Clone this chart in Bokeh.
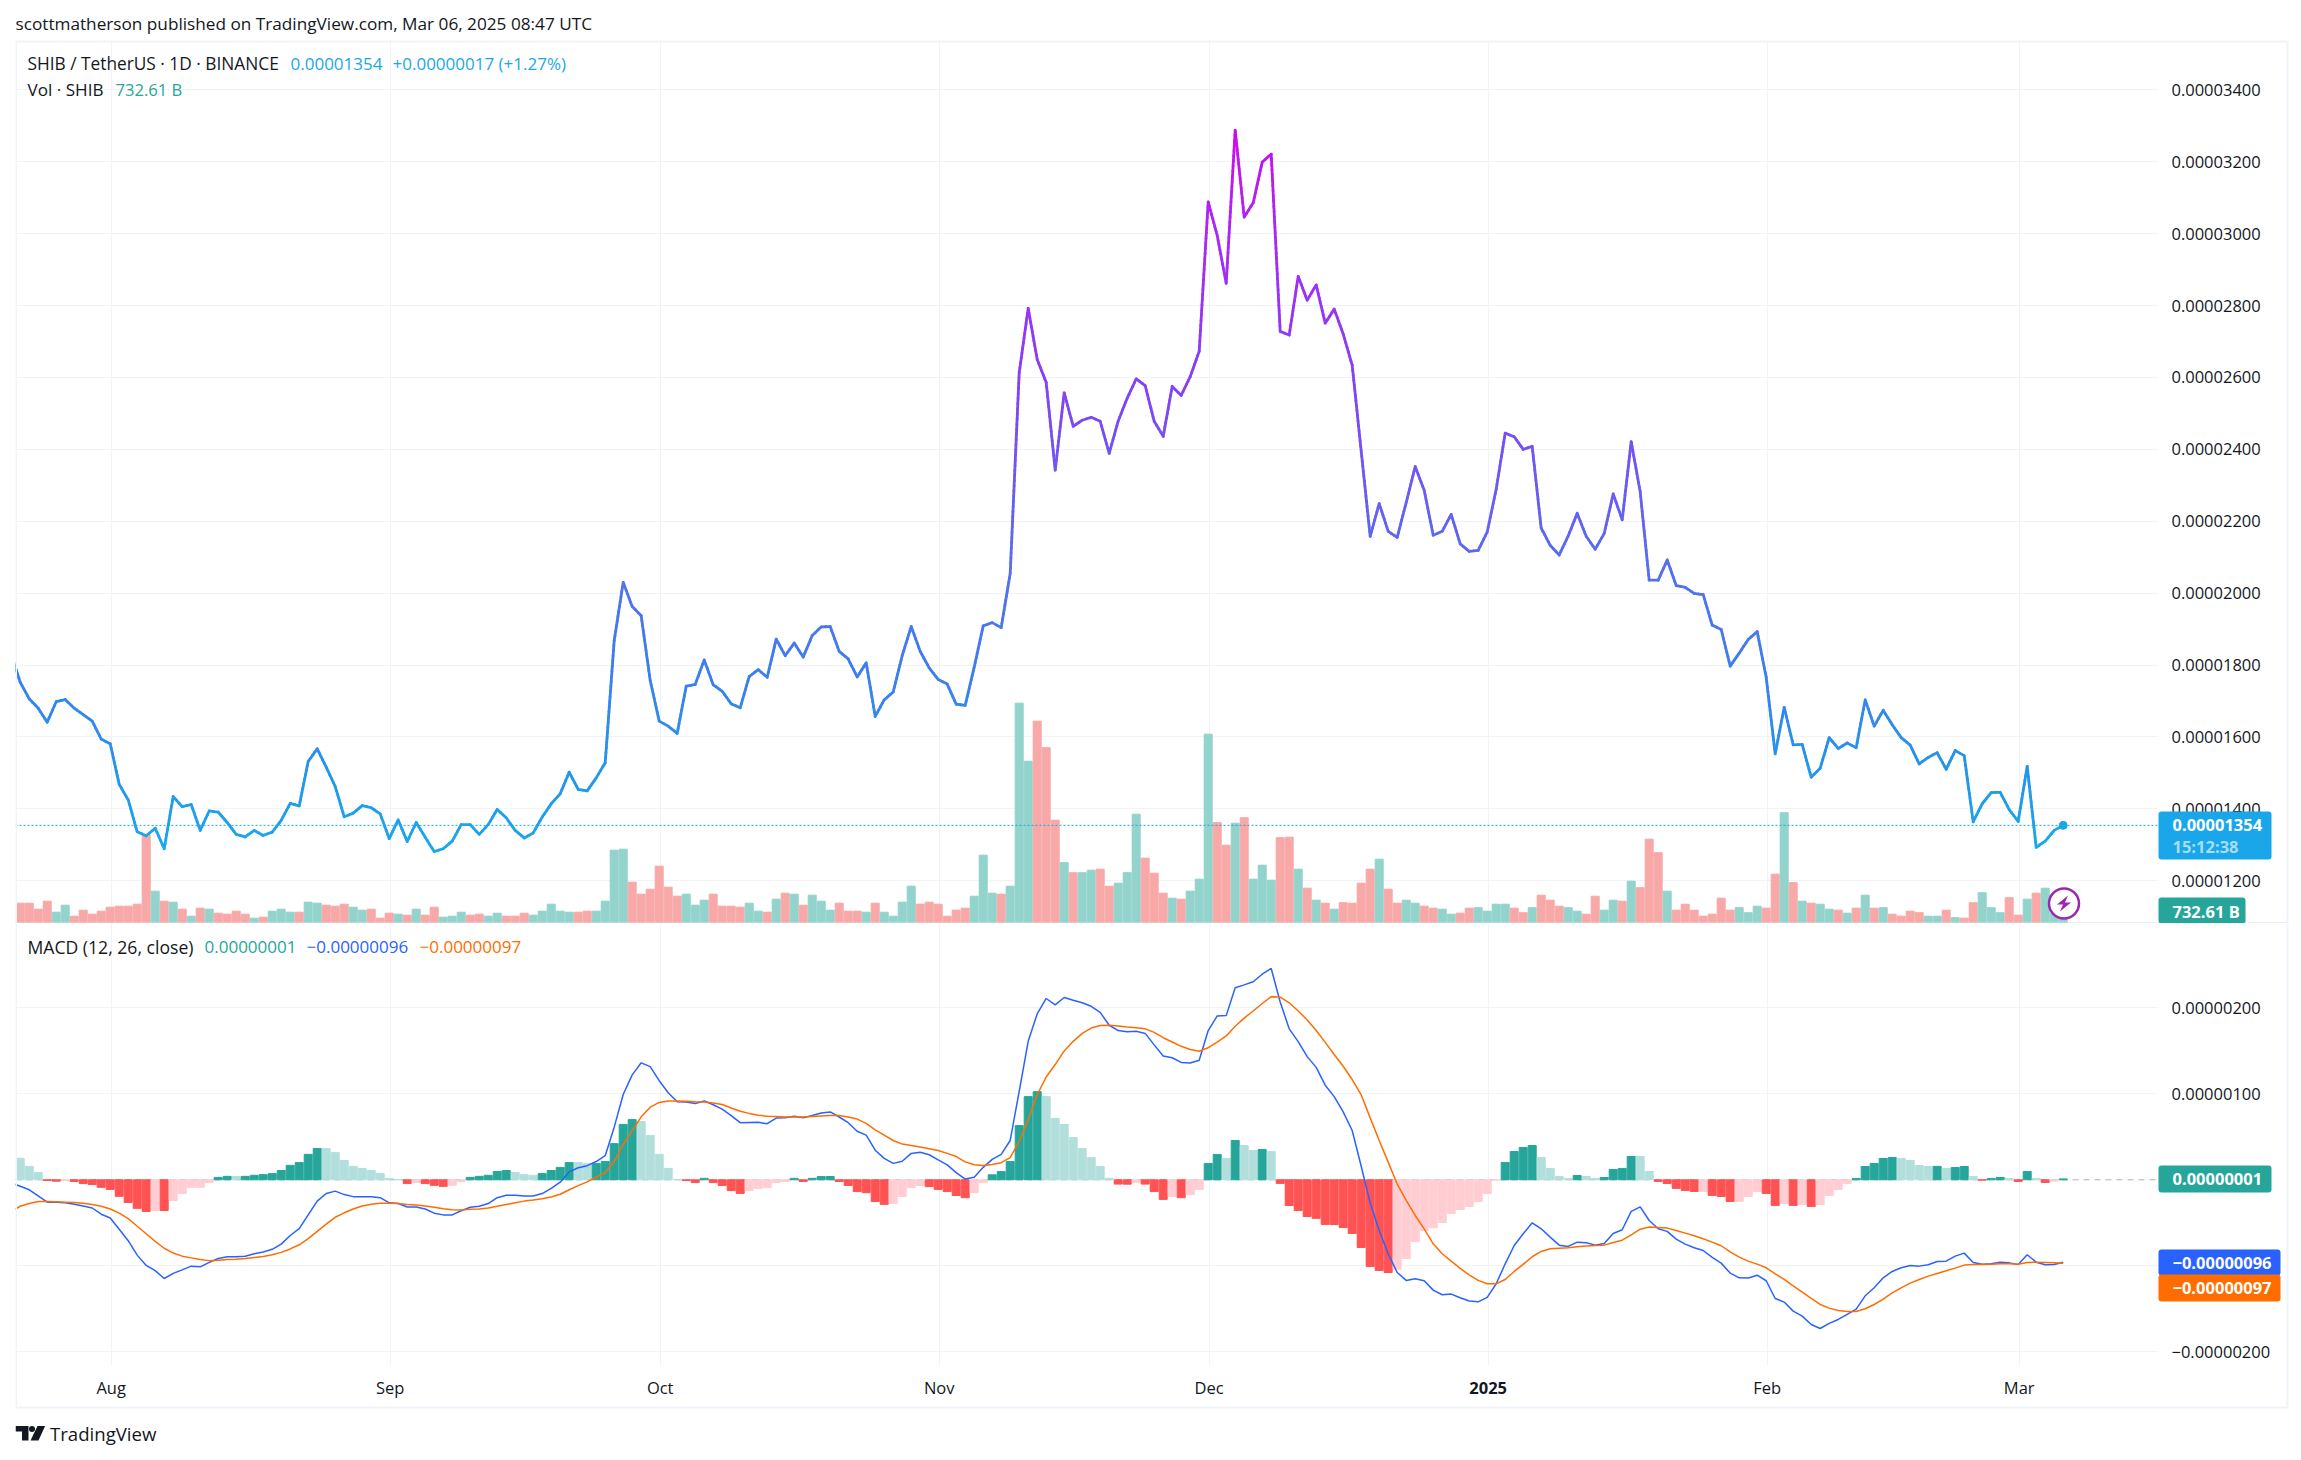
from math import ceil
from bokeh.plotting import figure
from bokeh.layouts import column
from bokeh.models import (Range1d, FixedTicker, Label, BoxAnnotation, PolyAnnotation)
from bokeh.embed import file_html
from bokeh.resources import INLINE

# All prices and MACD values in units of 0.00000001; volume in units of 100 B
first_day = -11  # days after 1 Aug 2024
close = [
1830,1752,1706,1680,1641,1698,1704,1680,1662,1644,
1594,1581,1468,1425,1336,1325,1346,1289,1434,1406,
1412,1340,1394,1391,1362,1329,1322,1340,1326,1335,
1368,1415,1408,1532,1567,1516,1462,1378,1388,1409,
1403,1386,1317,1369,1309,1362,1321,1281,1289,1310,
1356,1356,1329,1356,1398,1375,1340,1319,1333,1377,
1414,1442,1502,1454,1450,1486,1528,1868,2030,1963,
1937,1757,1644,1630,1610,1741,1746,1814,1745,1727,
1692,1681,1768,1787,1766,1872,1826,1861,1822,1882,
1906,1907,1838,1817,1767,1806,1657,1703,1725,1826,
1907,1838,1792,1760,1747,1691,1688,1794,1909,1918,
1904,2055,2613,2792,2650,2586,2342,2557,2464,2481,
2489,2478,2389,2479,2542,2596,2577,2478,2436,2575,
2550,2602,2673,3088,2995,2862,3287,3046,3086,3199,
3221,2728,2718,2881,2815,2857,2751,2790,2721,2634,
2395,2158,2249,2172,2155,2252,2352,2286,2161,2172,
2219,2137,2116,2119,2170,2289,2445,2435,2400,2408,
2181,2133,2106,2159,2222,2158,2122,2166,2276,2204,
2421,2282,2036,2036,2092,2021,2016,1999,1996,1911,
1899,1797,1833,1871,1893,1766,1553,1682,1578,1579,
1488,1513,1598,1568,1583,1570,1703,1630,1674,1634,
1598,1577,1525,1543,1556,1510,1562,1548,1364,1414,
1445,1446,1398,1365,1518,1293,1310,1340,1354]

volume = [
40,40,28,44,22,36,14,26,18,24,
32,34,34,38,176,64,44,42,28,14,
30,28,20,18,24,18,10,12,24,28,
22,22,42,40,36,34,38,32,26,28,
10,20,18,16,28,16,32,12,14,22,
16,18,14,20,14,14,20,16,24,38,
24,22,22,24,24,44,146,148,82,58,
68,114,72,54,58,36,46,58,34,34,
32,40,24,22,48,60,58,36,56,44,
26,40,24,24,22,40,22,14,42,74,
38,42,38,14,26,30,54,136,60,58,
74,440,324,404,351,206,121,101,101,106,
108,74,80,101,218,130,100,60,50,48,
64,88,378,201,156,200,211,88,116,86,
171,172,108,70,46,40,28,41,40,80,
108,128,68,40,46,40,34,30,28,18,
20,30,31,24,38,38,30,21,31,56,
46,34,31,24,18,54,26,46,44,84,
71,168,141,64,26,38,26,14,18,50,
26,31,21,34,30,98,221,81,44,40,
38,28,26,20,30,56,30,31,18,14,
24,21,14,14,26,11,10,41,61,31,
21,51,16,48,60,70,20,7.33]

macd_hist = [
25,15.6,8.4,-0.8,-1.6,-0.8,-2,-4.4,-5.6,-8.8,
-11.2,-19.2,-26.4,-33.2,-36.8,-35.6,-35.7,-24,-16,-8.8,
-8.7,-3.2,2.8,4,3.9,4,5.2,6,7.2,10.8,
16.8,20,29.6,36.4,36.2,31.6,22.4,15.6,13.2,10.8,
7.2,1.6,0.4,-4.4,-3.2,-4.4,-6.4,-7.6,-6.4,-2,
2.8,4,5.2,9.6,10.8,8.4,6,5.2,7.2,10.8,
14.4,20,19.9,18.6,18.8,21.2,42,64.4,70,67.6,
51.6,29.6,13.2,0.3,-0.8,-3.2,1.7,-3.3,-6.6,-12.5,
-15.8,-12.5,-10,-9.1,-3.3,-2,1.7,-2,1.7,3.7,
3.8,-2,-6.6,-13.7,-15,-25.3,-28.6,-27.4,-19.5,-9.1,
-6.6,-7.9,-11.2,-13.7,-18.3,-20.8,-15,-3.3,5.8,9.5,
21.2,63,96.7,102.5,96.7,71.4,64.3,49,36.5,25.7,
15.4,1.7,-5,-5.1,-2.9,-5,-13.7,-22.8,-19.5,-20.8,
-17,-11.2,19,29.5,24.9,45.7,39.8,34,35.3,32.8,
-4.2,-29.9,-35.7,-42.7,-44.8,-51.9,-52,-55.5,-62.4,-78.7,
-100.8,-105.4,-107.8,-103.9,-91.5,-71.7,-58.9,-55.8,-49.6,-39.1,
-34.5,-31,-25.2,-15.9,-0.3,20.2,32.9,37.6,39.9,26,
13.2,3.9,1.6,5,3.9,1.6,2.7,12,13.2,27.1,
27,9.7,-1.9,-4.3,-10,-12.4,-13.6,-13.5,-18.2,-19.4,
-25.2,-25.1,-19.4,-13.6,-15.9,-29.8,-27.5,-29.8,-28.7,-31,
-28.7,-18.2,-11.2,-4.3,1.6,15.5,19,24.8,26,24.8,
22.5,16.7,15.5,15.6,13.2,14.3,15.5,3.9,-0.4,1.6,
2.7,1.6,-1.9,9.7,1.6,-3.1,-1.5,1]

macd_line = [
-3.6,-7.6,-11.6,-18.8,-26,-26,-26.8,-28.4,-30.4,-32.8,
-40,-44.4,-57.6,-70.8,-87.6,-99.6,-105.6,-114.8,-108.8,-104.8,
-100.4,-101.2,-96,-91.6,-89.6,-89.6,-88.8,-86,-84,-80.8,
-74.8,-64.8,-56.8,-40.8,-24.8,-16,-13.2,-17.2,-19.6,-19.6,
-19.6,-20.8,-26.8,-27.6,-31.6,-31.6,-34,-38.8,-40.8,-40.8,
-36,-32,-30.8,-27.6,-20.8,-18,-18,-18.8,-18.8,-16,
-10,-2.8,9.2,14,16.4,21.2,28,61.2,99.2,122,
136,131.6,115.2,101.2,90.8,90.4,88.8,
91.7,87.2,82.2,74.7,66.4,66.6,66.8,65.2,71.8,72.2,
73.9,72.2,74.7,77.6,78.9,73,66.4,56.4,51.9,34.4,
24.9,19.1,21.6,30.7,32,29.1,23.2,17.4,8.3,0.8,
2.9,14.5,23.7,29.5,45.7,102.9,161,193,210.8,203.4,
212,208.7,205.8,201.7,194.6,179.7,173.5,172.2,172.6,170.2,
156.9,144,141.9,136.5,135.7,139,173.5,190.5,190.9,223.3,
226.6,230.3,239,245.7,206.7,175.5,160.6,143.2,130.7,110,
96.7,78.9,57.3,15.8,-27,-59,-86,-107.8,-117,-115,
-117.4,-128.3,-133.7,-132.9,-137.2,-141,-141.9,-136.8,-120.9,-97.7,
-76.4,-62.8,-50,-57,-66.7,-76,-77.5,-72.5,-73.3,-76,
-74,-62.4,-58.1,-36.8,-31.4,-47.3,-57,-60,-69,-74.8,
-79,-82.2,-90.3,-96.9,-108.5,-114,-114.3,-110.9,-117.4,-138,
-142.2,-152.7,-158.5,-168.2,-172.9,-167,-162.4,-156.6,-150.4,-134.9,
-125.6,-114,-106.6,-102.3,-99.6,-100.4,-98.8,-95,-94.6,-88.8,
-85.3,-96.1,-98.1,-97.7,-95.8,-96.6,-98.6,-87.2,-95.8,-98.8,
-98.4,-96]

signal_line = [
-36.8,-30.8,-27.6,-25.2,-25.2,-25.6,-26,-26.4,-27.2,-28.8,
-30.8,-34,-38.8,-45.2,-54,-62.8,-71.6,-79.6,-85.2,-88.8,
-90.8,-92.8,-94,-93.6,-92.8,-92.4,-91.6,-90.4,-89.2,-87.2,
-84.4,-80.4,-75.6,-68.4,-60,-51.6,-43.6,-38.4,-34,-30.4,
-28.4,-27.2,-27.2,-27.6,-28.8,-29.2,-30.4,-32,-33.6,-34.8,
-35.2,-34.4,-34,-32.8,-30.8,-28.8,-26.8,-24.8,-23.6,-22,
-20,-16.8,-11.6,-6.8,-2.4,3.2,8.4,21.2,41.2,57.2,
73.2,84.4,90,91.6,91.6,91.2,90.8,
90.5,89.2,87.6,83.4,79.7,77.2,75.1,73.9,73.5,73,
73,73,73.7,74.3,74.7,74.7,73,70.6,65.6,58.1,
51.9,45.7,41.5,39.8,38.2,36.1,34,30.7,27,20.8,
17.4,16.6,17.8,19.9,25.7,44.8,69.7,98.8,119.5,134,
149.8,161,170.2,176.4,179.3,179.7,178.9,177.6,176.8,175.5,
171.4,165.2,160.2,155.2,151.5,149.4,153.6,160.2,167.2,178.5,
188,196.3,205,212.9,212.5,205.8,196.3,185.9,173.5,159.8,
145.7,132,116.6,98.8,72,45.7,20.5,-5,-24,-41.5,
-57,-74.4,-86,-94.6,-103.1,-110.5,-117,-120.9,-120.9,-115.9,
-106.6,-98.4,-89.5,-83.3,-80.2,-79.5,-79,-77.9,-77.1,-76.4,
-76,-72.9,-70.2,-64,-57.4,-55,-55.4,-56.2,-58.9,-62,
-65.1,-68.6,-72.5,-76.7,-83.7,-89.9,-94.6,-98.1,-102.3,-109.3,
-115.9,-123.3,-130.6,-138,-145,-149.2,-151.9,-153.1,-153.1,-150,
-145,-138.8,-131.4,-125.6,-120.2,-115.9,-112,-108.9,-105.8,-102.7,
-99.2,-98.4,-98.4,-98.1,-97.7,-97.7,-98.1,-96.1,-95.8,-96.1,
-96.5,-97]

assert len(close) == 229 and len(macd_line) == 229 and len(signal_line) == 229
assert len(volume) == 228 and len(macd_hist) == 228

month_days = [0, 31, 61, 92, 122, 153, 184, 212]
month_labels = ["Aug", "Sep", "Oct", "Nov", "Dec", "", "Feb", "Mar"]
price_ticks = [1200, 1400, 1600, 1800, 2000, 2200, 2400, 2600, 2800, 3000, 3200, 3400]
macd_ticks = [-200, -100, 100, 200]
header = "scottmatherson published on TradingView.com, Mar 06, 2025 08:47 UTC"
symbol = "SHIB / TetherUS · 1D · BINANCE"
last_text = "0.00001354"
change_text = "+0.00000017 (+1.27%)"
countdown = "15:12:38"
vol_text = "732.61 B"
hist_text = "0.00000001"
macd_text = "−0.00000096"
signal_text = "−0.00000097"

FONT = "Open Sans"
INK = "#131722"
GRID = "#f2f3f6"
EDGE = "#f0f3fa"
SEP = "#e0e3eb"
UP, DOWN = "#26a69a", "#ef5350"
BLUE, ORANGE = "#2962ff", "#ff6d00"
CYAN = "#1aa7ea"
OFFSET = 0.11   # marks sit about 1px left of the gridlines

days = [first_day + i for i in range(len(close))]
xs = [d - OFFSET for d in days]
bar_xs = xs[1:]
vol_up = [close[i + 1] > close[i] for i in range(len(volume))]
vol_colors = ["#92d3cc" if u else "#f7a8a7" for u in vol_up]

def hist_color(i):
    h, prev = macd_hist[i], (macd_hist[i - 1] if i else 30)
    if h >= 0:
        return "#26a69a" if h > prev else "#b2dfdb"
    return "#ffcdd2" if h > prev else "#ff5252"
hist_colors = [hist_color(i) for i in range(len(macd_hist))]

STOPS = [(1280, (26, 168, 236)), (1500, (34, 150, 235)), (1800, (62, 125, 238)), (2050, (84, 112, 240)),
         (2300, (108, 90, 243)), (2600, (134, 64, 245)), (3000, (170, 40, 245)), (3290, (205, 10, 240))]
def grad(v):
    for (a, ca), (b, cb) in zip(STOPS, STOPS[1:]):
        if v <= b:
            t = max(0, (v - a) / (b - a))
            return "#%02x%02x%02x" % tuple(round(p + (q - p) * t) for p, q in zip(ca, cb))
    return "#%02x%02x%02x" % STOPS[-1][1]

# gradient stroke: each step of the close line is stroked in short pieces
x0, y0, x1, y1, seg_c = [], [], [], [], []
for i in range(len(close) - 1):
    n = ceil(abs(close[i + 1] - close[i]) / 15) + 1
    for k in range(n):
        a, b = k / n, (k + 1) / n
        x0.append(xs[i] + (xs[i + 1] - xs[i]) * a)
        x1.append(xs[i] + (xs[i + 1] - xs[i]) * b)
        y0.append(close[i] + (close[i + 1] - close[i]) * a)
        y1.append(close[i] + (close[i + 1] - close[i]) * b)
        seg_c.append(grad(y0[-1] / 2 + y1[-1] / 2))

X_RANGE = (-10.633, 242.48)
AXIS_X = 227.367
TOTAL_W = 2293

def style_fig(p, ticks, labels):
    p.outline_line_color = None
    p.background_fill_color = "white"
    p.border_fill_color = "white"
    p.ygrid.grid_line_color = GRID
    p.ygrid.grid_line_width = 1
    p.xgrid.grid_line_color = GRID
    p.xgrid.grid_line_width = 1
    p.yaxis.fixed_location = AXIS_X
    p.yaxis.ticker = FixedTicker(ticks=ticks)
    p.yaxis.major_label_overrides = labels
    p.yaxis.axis_line_color = None
    p.yaxis.major_tick_line_color = None
    p.yaxis.minor_tick_line_color = None
    p.yaxis.major_tick_out = 0
    p.yaxis.major_tick_in = 0
    p.yaxis.major_label_text_font = FONT
    p.yaxis.major_label_text_font_size = "16.5px"
    p.yaxis.major_label_text_color = INK
    p.yaxis.major_label_standoff = 14

def band(p, off, l, r, t, b, color, line=None, lw=0, radius=0, level="annotation"):
    p.add_layout(BoxAnnotation(left=l, right=r, top=t - off, bottom=b - off,
                               left_units="canvas", right_units="canvas", top_units="canvas", bottom_units="canvas",
                               fill_color=color, fill_alpha=1, line_color=line, line_alpha=1, line_width=lw,
                               border_radius=radius, level=level))

def txt(p, off, x, y, s, color=INK, size="17px", style="normal", align="left"):
    p.add_layout(Label(x=x, y=y - off, x_units="canvas", y_units="canvas", text=s, text_color=color,
                       text_font=FONT, text_font_size=size, text_font_style=style,
                       text_baseline="middle", text_align=align))

# ---------- price pane ----------
p1 = figure(width=TOTAL_W, height=923, output_backend="svg", toolbar_location=None,
            x_range=Range1d(*X_RANGE), y_range=Range1d(1081, 3648.5), y_axis_location="right",
            min_border_left=15, min_border_right=0, min_border_top=0, min_border_bottom=0)
style_fig(p1, price_ticks, {t: "0.0000%d" % t for t in price_ticks})
p1.xaxis.visible = False
p1.xgrid.ticker = FixedTicker(ticks=month_days)
band(p1, 0, 0, TOTAL_W, 0, 41, "white", level="underlay")
band(p1, 0, 2157, TOTAL_W, 0, 923, "white", level="underlay")

p1.extra_y_ranges = {"vol": Range1d(-0.6, 1845.4)}
p1.vbar(x=bar_xs, top=volume, bottom=0, width=8 / 9, color=vol_colors, y_range_name="vol")
p1.line([X_RANGE[0], AXIS_X], [close[-1], close[-1]], line_color=CYAN, line_width=1, line_dash="2 2")
p1.segment(x0, y0, x1, y1, color=seg_c, line_width=2.8, line_cap="round")
p1.scatter([xs[-1]], [close[-1]], size=8, color=CYAN, marker="circle")

band(p1, 0, 15, 2288, 40, 42, EDGE)
band(p1, 0, 15, 16.5, 41, 923, EDGE)
band(p1, 0, 2286, 2288, 41, 923, EDGE)
band(p1, 0, 15, 2287, 922, 923.5, SEP)

txt(p1, 0, 15, 23, header, size="17.2px")
txt(p1, 0, 27, 63, symbol, size="17.3px")
txt(p1, 0, 290, 63, last_text, CYAN)
txt(p1, 0, 392, 63, change_text, CYAN)
txt(p1, 0, 27, 89, "Vol · SHIB", size="17.1px")
txt(p1, 0, 115, 89, vol_text, UP, size="16.6px")

band(p1, 0, 2158, 2271, 811, 859, CYAN, radius=3)
txt(p1, 0, 2172, 824, last_text, "white", size="16.5px", style="bold")
txt(p1, 0, 2172, 846, countdown, "#a8dcf7", size="16.5px", style="bold")
band(p1, 0, 2158, 2245, 897, 923, UP, radius=3)
txt(p1, 0, 2172, 911, vol_text, "white", size="16.5px", style="bold")

band(p1, 0, 2048.5, 2078.5, 888, 918, "white", line="#9c27b0", lw=2.5, radius=15)
cx, cy = 2063.5, 903
p1.add_layout(PolyAnnotation(xs=[cx + 4, cx - 7, cx - 1, cx - 4, cx + 7, cx + 1],
                             ys=[cy - 8, cy + 1, cy + 1, cy + 8, cy - 1, cy - 1],
                             xs_units="canvas", ys_units="canvas", fill_color="#9c27b0", fill_alpha=1, line_color=None))

# ---------- MACD pane ----------
p2 = figure(width=TOTAL_W, height=529, output_backend="svg", toolbar_location=None,
            x_range=p1.x_range, y_range=Range1d(-317.1, 298), y_axis_location="right",
            min_border_left=15, min_border_right=0, min_border_top=0, min_border_bottom=0)
style_fig(p2, macd_ticks, {t: ("−" if t < 0 else "") + "0.00000%03d" % abs(t) for t in macd_ticks})
p2.xaxis.fixed_location = -215.9
p2.xaxis.ticker = FixedTicker(ticks=month_days)
p2.xgrid.ticker = FixedTicker(ticks=month_days)
p2.xaxis.major_label_overrides = dict(zip(month_days, month_labels))
p2.xaxis.axis_line_color = None
p2.xaxis.major_tick_line_color = None
p2.xaxis.minor_tick_line_color = None
p2.xaxis.major_tick_out = 0
p2.xaxis.major_tick_in = 0
p2.xaxis.major_label_text_font = FONT
p2.xaxis.major_label_text_font_size = "16.5px"
p2.xaxis.major_label_text_color = INK
p2.xaxis.major_label_standoff = 11
band(p2, 923, 0, TOTAL_W, 1365, 1452, "white", level="underlay")
band(p2, 923, 2157, TOTAL_W, 923, 1452, "white", level="underlay")

p2.line([X_RANGE[0], AXIS_X], [0, 0], line_color="#aeb0b6", line_width=1, line_dash="6 5")
p2.vbar(x=bar_xs, top=macd_hist, bottom=0, width=8 / 9, color=hist_colors)
p2.line(xs, macd_line, line_color=BLUE, line_width=1.5)
p2.line(xs, signal_line, line_color=ORANGE, line_width=1.5)

band(p2, 923, 15, 16.5, 923, 1407, EDGE)
band(p2, 923, 2286, 2288, 923, 1407, EDGE)
band(p2, 923, 15, 2288, 1406, 1408, EDGE)

txt(p2, 923, 27, 946, "MACD (12, 26, close)", size="17.6px")
txt(p2, 923, 204, 946, hist_text, UP)
txt(p2, 923, 306, 946, macd_text, BLUE)
txt(p2, 923, 419, 946, signal_text, ORANGE)

p2.add_layout(Label(x=153, y=1387 - 923, x_units="data", y_units="canvas", text="2025",
                    text_color=INK, text_font=FONT, text_font_size="16.5px", text_font_style="bold",
                    text_align="center", text_baseline="middle"))

band(p2, 923, 2158, 2271, 1165, 1192, UP, radius=3)
txt(p2, 923, 2172, 1178, hist_text, "white", size="16.5px", style="bold")
band(p2, 923, 2158, 2280, 1249, 1275, BLUE, radius=3)
txt(p2, 923, 2172, 1262, macd_text, "white", size="16.5px", style="bold")
band(p2, 923, 2158, 2280, 1274, 1301, ORANGE, radius=3)
txt(p2, 923, 2172, 1287, signal_text, "white", size="16.5px", style="bold")

# TradingView mark and wordmark
def poly(px, py, color="#131722"):
    p2.add_layout(PolyAnnotation(xs=px, ys=[v - 923 for v in py], xs_units="canvas", ys_units="canvas",
                                 fill_color=color, fill_alpha=1, line_color=None))
poly([15, 28, 28, 21.5, 21.5, 15], [1425.5, 1425.5, 1440, 1440, 1431, 1431])
poly([37, 44.6, 38, 30], [1425.5, 1425.5, 1440, 1440])
band(p2, 923, 28.5, 34.5, 1425.5, 1431.5, "#131722", radius=3)
txt(p2, 923, 49.5, 1433, "TradingView", INK, size="18.6px")

open("out.html", "w").write(file_html(column(p1, p2, spacing=0), INLINE))
